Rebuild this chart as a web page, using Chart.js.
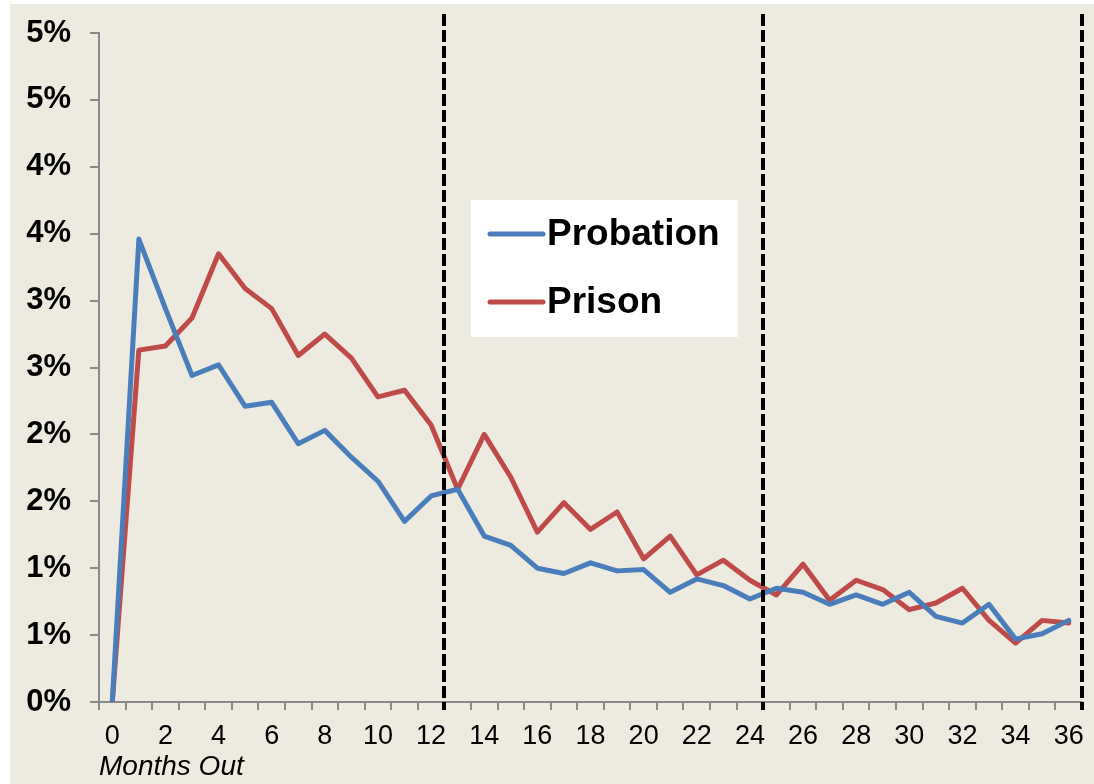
<!DOCTYPE html>
<html>
<head>
<meta charset="utf-8">
<script src="https://cdn.jsdelivr.net/npm/chart.js@4/dist/chart.umd.min.js"></script>
<style>
  html, body { margin: 0; padding: 0; background: #fff; }
  canvas { display: block; }
</style>
</head>
<body>
<canvas id="chart" width="1094" height="784"></canvas>
<script>
// months since release
const months = Array.from({ length: 37 }, (_, i) => String(i));

// monthly rate, percent
const probation = [
  0, 3.46, 2.94, 2.44, 2.52, 2.21, 2.24, 1.93, 2.03, 1.83,
  1.65, 1.35, 1.54, 1.59, 1.24, 1.17, 1.00, 0.96, 1.04, 0.98,
  0.99, 0.82, 0.92, 0.87, 0.77, 0.85, 0.82, 0.73, 0.80, 0.73,
  0.82, 0.64, 0.59, 0.73, 0.47, 0.51, 0.61
];
const prison = [
  0, 2.63, 2.66, 2.87, 3.35, 3.09, 2.94, 2.59, 2.75, 2.57,
  2.28, 2.33, 2.07, 1.59, 2.00, 1.68, 1.27, 1.49, 1.29, 1.42,
  1.07, 1.24, 0.95, 1.06, 0.91, 0.80, 1.03, 0.76, 0.91, 0.84,
  0.69, 0.74, 0.85, 0.61, 0.44, 0.61, 0.59
];

// year boundaries (between month 12/13, 24/25, after 36)
const yearMarks = [12.5, 24.5, 36.5];

const FONT = '"Liberation Sans", Arial, sans-serif';
const AXIS = '#898989';

const backdrop = {
  id: 'backdrop',
  beforeDraw(c) {
    const ctx = c.ctx;
    ctx.save();
    ctx.fillStyle = '#ffffff';
    ctx.fillRect(0, 0, c.width, c.height);
    ctx.fillStyle = '#EDEAE0';
    ctx.fillRect(10, 4, c.width - 10, c.height - 4);
    ctx.restore();
  }
};

const dividers = {
  id: 'dividers',
  afterDatasetsDraw(c) {
    const ctx = c.ctx, x = c.scales.x, a = c.chartArea;
    ctx.save();
    ctx.strokeStyle = '#000';
    ctx.lineWidth = 4;
    ctx.setLineDash([12, 4]);
    yearMarks.forEach(m => {
      const px = Math.round(x.getPixelForValue(m));
      ctx.beginPath();
      ctx.moveTo(px, 14);
      ctx.lineTo(px, a.bottom + 8);
      ctx.stroke();
    });
    ctx.restore();
  }
};

const boxLegend = {
  id: 'boxLegend',
  afterDraw(c) {
    const ctx = c.ctx;
    ctx.save();
    ctx.fillStyle = '#ffffff';
    ctx.fillRect(471, 200, 267, 137);
    c.data.datasets.forEach((ds, i) => {
      const y = 234 + i * 68;
      ctx.strokeStyle = ds.borderColor;
      ctx.lineWidth = 5;
      ctx.lineCap = 'round';
      ctx.beginPath();
      ctx.moveTo(490, y);
      ctx.lineTo(543, y);
      ctx.stroke();
      ctx.fillStyle = '#000';
      ctx.font = `bold 37px ${FONT}`;
      ctx.textBaseline = 'middle';
      ctx.textAlign = 'left';
      ctx.fillText(ds.label, 547, y + 1);
    });
    ctx.restore();
  }
};

new Chart(document.getElementById('chart'), {
  type: 'line',
  data: {
    labels: months,
    datasets: [
      { label: 'Probation', data: probation, borderColor: '#4A7EBB', borderWidth: 5 },
      { label: 'Prison', data: prison, borderColor: '#BE4B48', borderWidth: 5 },
    ]
  },
  options: {
    responsive: false,
    animation: false,
    devicePixelRatio: 1,
    layout: { padding: { top: 33, right: 12, left: 0, bottom: 0 } },
    elements: {
      point: { radius: 0 },
      line: { tension: 0, borderJoinStyle: 'round', borderCapStyle: 'round' }
    },
    plugins: { legend: { display: false }, tooltip: { enabled: false } },
    scales: {
      x: {
        offset: true,
        grid: { offset: true, drawOnChartArea: false, tickLength: 8, color: AXIS, lineWidth: 2 },
        border: { color: AXIS, width: 2 },
        ticks: {
          autoSkip: false, maxRotation: 0, padding: 10, color: '#000',
          font: { family: FONT, size: 27 },
          callback: (v, i) => (i % 2 === 0 ? months[i] : '')
        },
        title: {
          display: true, text: 'Months Out', align: 'start', color: '#000',
          font: { family: FONT, size: 28, style: 'italic' },
          padding: { top: 0, bottom: 0 }
        },
        afterFit: s => { s.height = 82; s.paddingLeft = 0; s.paddingRight = 0; }
      },
      y: {
        min: 0, max: 5,
        grid: { drawOnChartArea: false, tickLength: 9, color: AXIS, lineWidth: 2 },
        border: { color: AXIS, width: 2 },
        ticks: {
          stepSize: 0.5, padding: 19, color: '#000',
          font: { family: FONT, size: 31, weight: 'bold' },
          callback: v => Math.round(+v.toFixed(2)) + '%'
        },
        afterFit: s => { s.width = 99; s.paddingTop = 0; s.paddingBottom = 0; }
      }
    }
  },
  plugins: [backdrop, dividers, boxLegend]
});
</script>
</body>
</html>
